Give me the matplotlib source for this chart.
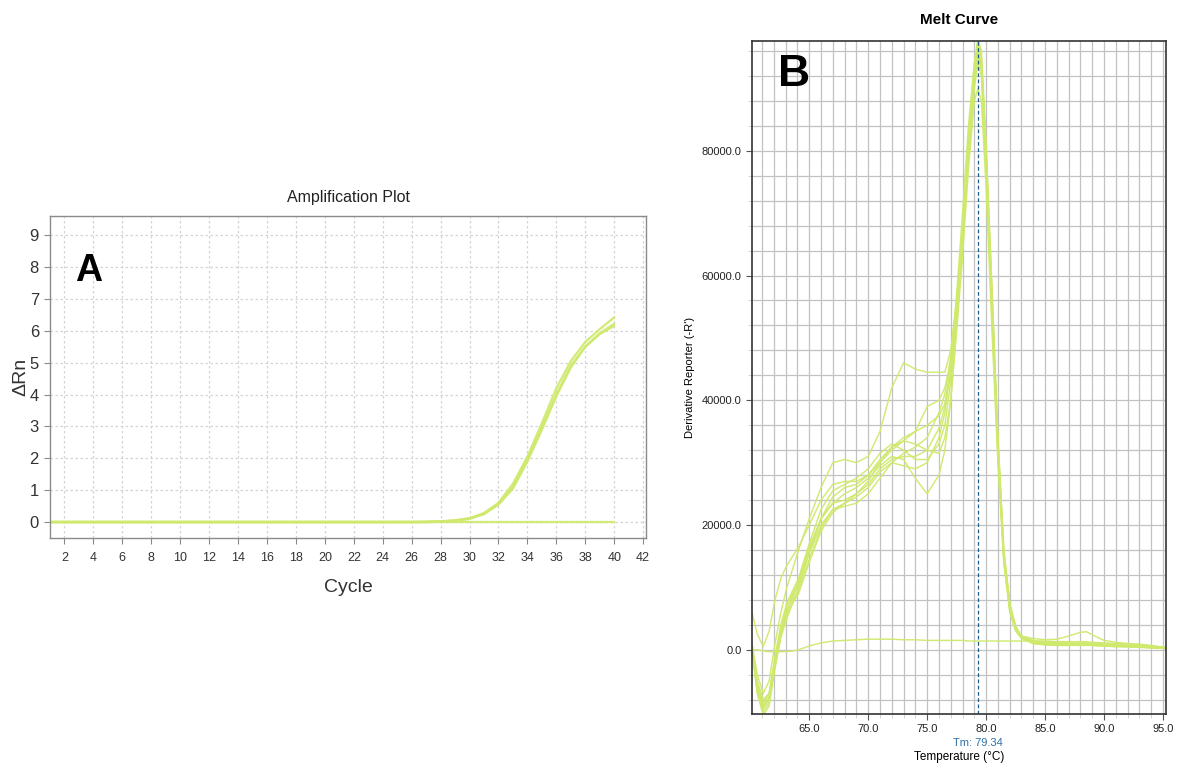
#!/usr/bin/env python3

import numpy as np
import matplotlib
matplotlib.use("Agg")
import matplotlib.pyplot as plt
from matplotlib.ticker import MultipleLocator, FormatStrFormatter


# ============================================================
# DATA - panel A (amplification, delta Rn per cycle 1..40)
# ============================================================

CYCLES = list(range(1, 41))

AMP_1 = [0.0] * 26 + [0.01, 0.02, 0.05, 0.12, 0.28, 0.60, 1.20, 2.05,
                      3.10, 4.20, 5.05, 5.65, 6.05, 6.42]
AMP_2 = [0.0] * 26 + [0.00, 0.02, 0.05, 0.11, 0.26, 0.56, 1.10, 1.95,
                      2.95, 4.00, 4.90, 5.50, 5.90, 6.15]
AMP_3 = [0.0] * 26 + [0.00, 0.01, 0.04, 0.10, 0.25, 0.55, 1.05, 1.90,
                      2.90, 3.95, 4.85, 5.50, 5.92, 6.22]
AMP_NTC = [0.0] * 40

AMP_CURVES = [AMP_NTC, AMP_1, AMP_2, AMP_3]

# ============================================================
# DATA - panel B (melt curve, derivative reporter in thousands)
# ============================================================

MELT_T = [60.15, 60.6, 61.1, 61.6, 62.1, 62.6, 63.1, 63.6, 64.1,
          65, 66, 67, 68, 69, 70, 71, 72, 73, 74, 75, 76,
          76.5, 77, 77.5, 78, 78.5, 79, 79.3, 79.6, 80, 80.5, 81, 81.5, 82, 82.5, 83,
          84, 85, 86, 87, 88, 88.5, 89, 90, 91, 92, 93, 94, 95.25]

MELT_1 = [1, -4, -7, -5, 1, 6, 10, 13, 16,
          21, 26, 30, 30.5, 30, 31, 35, 42, 46, 45, 44.5, 44.5,
          44.5, 48, 56, 66, 80, 92, 96, 93, 78, 55, 32, 15, 7, 3.5, 2.2,
          1.5, 1.2, 1.2, 1.1, 1.0, 1.0, 1.0, 0.9, 0.8, 0.7, 0.6, 0.5, 0.3]
MELT_2 = [5.9, 2.5, 0.5, 3, 8, 11.5, 13.5, 15, 16.5,
          20, 24, 26.5, 27, 27, 28, 30, 32, 33.5, 35, 39, 40,
          42, 46, 54, 65, 79, 90, 94, 92, 77, 53, 31, 14, 6.5, 3.2, 2.2,
          1.8, 1.6, 1.7, 2.2, 2.8, 2.9, 2.4, 1.5, 1.2, 1.0, 0.9, 0.7, 0.3]
MELT_3 = [0, -6, -9.5, -8, -2, 3, 6, 8.5, 11,
          16.5, 21, 23.5, 25, 26, 27.5, 29.5, 31, 30.5, 27.5, 25, 28,
          32, 40, 51, 63, 77, 88, 90, 88, 74, 51, 30, 14, 6, 3, 1.8,
          1.0, 0.8, 0.8, 0.8, 0.8, 0.8, 0.7, 0.7, 0.6, 0.5, 0.5, 0.4, 0.2]
MELT_4 = [0, -7, -10.5, -9, -3, 2, 5, 7.5, 10,
          15.5, 21, 24.5, 26, 26.5, 28, 30.5, 32.5, 33.5, 33, 32, 31.5,
          34, 40, 52, 65, 80, 92, 95.5, 94, 79, 56, 33, 15, 7, 3.5, 2,
          1.2, 0.9, 0.8, 0.8, 0.8, 0.8, 0.8, 0.7, 0.6, 0.5, 0.5, 0.4, 0.2]
MELT_5 = [0, -5, -8, -7, -1, 4, 7.5, 9.5, 11.5,
          17, 22.5, 25.5, 26.5, 27.5, 29, 31.5, 33, 32, 30.5, 30.5, 33,
          36, 43, 53, 66, 81, 93, 97, 95, 80, 57, 34, 16, 7.5, 3.8, 2.2,
          1.3, 1.0, 0.9, 0.9, 1.0, 1.0, 0.9, 0.8, 0.7, 0.6, 0.5, 0.4, 0.2]
MELT_6 = [0, -6.5, -9, -7.5, -2, 3, 6.5, 8, 9.5,
          14.5, 19.5, 22.5, 23.5, 24.5, 26, 28.5, 30, 29.5, 29, 30, 34,
          38, 45, 55, 67, 82, 94, 98, 96, 81, 58, 34, 16, 7.5, 3.6, 2.0,
          1.1, 0.8, 0.7, 0.7, 0.7, 0.7, 0.7, 0.6, 0.5, 0.5, 0.4, 0.3, 0.2]
MELT_7 = [0, -5.5, -8.5, -7, -1.5, 3.5, 7, 9, 11,
          16, 21, 23.5, 24, 25, 27, 30, 32.5, 34, 35, 36, 37.5,
          39.5, 44, 54, 66, 80, 91, 95, 93, 78, 55, 32, 15, 7, 3.4, 2.0,
          1.2, 1.0, 0.9, 0.9, 0.9, 0.9, 0.9, 0.8, 0.7, 0.6, 0.5, 0.4, 0.2]
MELT_8 = [0, -6, -9, -8, -2.5, 2.5, 6, 8.5, 10.5,
          15.5, 20, 22.5, 23, 23.5, 25, 27.5, 30, 31.5, 32.5, 34, 38,
          41, 47, 56, 67, 81, 92, 96, 94, 79, 56, 33, 15, 7, 3.5, 2.1,
          1.3, 1.1, 1.0, 1.0, 1.1, 1.1, 1.0, 0.9, 0.8, 0.7, 0.6, 0.4, 0.2]
MELT_9 = [0, -7, -10, -8.5, -2.5, 2.5, 5.5, 7.5, 9,
          14, 19, 22, 23.5, 25, 26.5, 29, 30.5, 31, 31, 32, 35.5,
          39, 46, 57, 70, 84, 94, 97.5, 95, 80, 57, 33, 15, 7, 3.4, 1.9,
          1.0, 0.8, 0.7, 0.7, 0.8, 0.8, 0.7, 0.6, 0.5, 0.5, 0.4, 0.3, 0.2]
MELT_NTC = [0, 0, -0.2, -0.3, -0.3, -0.3, -0.3, -0.2, 0,
            0.6, 1.1, 1.4, 1.5, 1.6, 1.7, 1.7, 1.7, 1.6, 1.6, 1.5, 1.5,
            1.5, 1.5, 1.5, 1.5, 1.4, 1.4, 1.4, 1.4, 1.4, 1.4, 1.4, 1.4, 1.4, 1.4, 1.4,
            1.4, 1.4, 1.3, 1.3, 1.3, 1.3, 1.2, 1.1, 1.0, 0.9, 0.8, 0.6, 0.4]

MELT_CURVES = [MELT_NTC, MELT_1, MELT_2, MELT_3, MELT_4, MELT_5,
               MELT_6, MELT_7, MELT_8, MELT_9]

TM_VALUE = 79.34

# ============================================================
# STYLE
# ============================================================

LINE_COLOR = "#cfe96c"
NARROW = ["Liberation Sans Narrow", "Liberation Sans", "DejaVu Sans"]
ARIAL = ["Liberation Sans", "DejaVu Sans"]

plt.rcParams["font.family"] = ARIAL


def draw_amplification(ax):
    for curve in AMP_CURVES:
        ax.plot(CYCLES, curve, color=LINE_COLOR, lw=1.7, alpha=0.9,
                solid_capstyle="round")

    ax.set_xlim(1, 42.2)
    ax.set_ylim(-0.5, 9.6)
    ax.xaxis.set_major_locator(MultipleLocator(2))
    ax.yaxis.set_major_locator(MultipleLocator(1))
    ax.grid(True, color="#d4d4d4", lw=0.9, ls=(0, (2, 2)))
    ax.set_axisbelow(True)

    for s in ax.spines.values():
        s.set_color("#8a8a8a")
        s.set_linewidth(1.0)
    ax.tick_params(axis="x", length=4, width=0.8, color="#8a8a8a",
                   labelcolor="#333333", pad=6)
    ax.tick_params(axis="y", length=4, width=0.8, color="#8a8a8a",
                   labelcolor="#333333", pad=4)
    for lab in ax.get_xticklabels():
        lab.set_family(NARROW)
        lab.set_fontsize(9)
    for lab in ax.get_yticklabels():
        lab.set_family(NARROW)
        lab.set_fontsize(12)

    ax.set_title("Amplification Plot", fontsize=11.5, family=NARROW,
                 color="#222222", pad=10)
    ax.set_xlabel("Cycle", fontsize=14, family=NARROW, color="#333333",
                  labelpad=11)
    ax.set_ylabel("\u0394Rn", fontsize=14, color="#333333", labelpad=0)
    ax.text(0.042, 0.83, "A", transform=ax.transAxes, fontsize=27,
            fontweight="bold", ha="left", va="center", color="black")


def draw_melt(ax):
    for curve in MELT_CURVES:
        ax.plot(MELT_T, np.array(curve) * 1000.0, color=LINE_COLOR,
                lw=1.05, alpha=0.95)

    ax.axvline(TM_VALUE, color="#1d5d8c", lw=0.9, ls=(0, (3, 2)))

    ax.set_xlim(60.15, 95.25)
    ax.set_ylim(-10300, 97600)
    ax.xaxis.set_major_locator(MultipleLocator(5))
    ax.xaxis.set_minor_locator(MultipleLocator(1))
    ax.yaxis.set_major_locator(MultipleLocator(20000))
    ax.yaxis.set_minor_locator(MultipleLocator(4000))
    ax.xaxis.set_major_formatter(FormatStrFormatter("%.1f"))
    ax.yaxis.set_major_formatter(FormatStrFormatter("%.1f"))

    ax.grid(True, which="both", color="#c2c2c2", lw=0.9)
    ax.set_axisbelow(True)

    for s in ax.spines.values():
        s.set_color("#333333")
        s.set_linewidth(1.2)
    ax.tick_params(axis="both", which="major", length=4, width=0.8,
                   color="#555555", labelsize=8, labelcolor="#222222")
    ax.tick_params(axis="both", which="minor", length=3, width=0.6,
                   color="#cccccc")

    ax.set_title("Melt Curve", fontsize=11, fontweight="bold", pad=12)
    ax.set_ylabel("Derivative Reporter (-R')", fontsize=8, labelpad=5)
    ax.set_xlabel("Temperature (\u00b0C)", fontsize=8.5, labelpad=12)
    ax.text(TM_VALUE, -0.035, f"Tm: {TM_VALUE:.2f}", fontsize=8,
            color="#2f6fa8", ha="center", va="top",
            transform=ax.get_xaxis_transform())
    ax.text(0.063, 0.95, "B", transform=ax.transAxes, fontsize=32,
            fontweight="bold", ha="left", va="center", color="black")


def main():
    fig = plt.figure(figsize=(11.8, 7.67), dpi=100)
    fig.patch.set_facecolor("white")

    ax_a = fig.add_axes([0.0424, 0.2986, 0.5051, 0.4198])
    ax_b = fig.add_axes([0.6373, 0.0691, 0.3508, 0.8774])

    draw_amplification(ax_a)
    draw_melt(ax_b)

    fig.savefig("out.png", dpi=100)
    plt.close(fig)


if __name__ == "__main__":
    main()
